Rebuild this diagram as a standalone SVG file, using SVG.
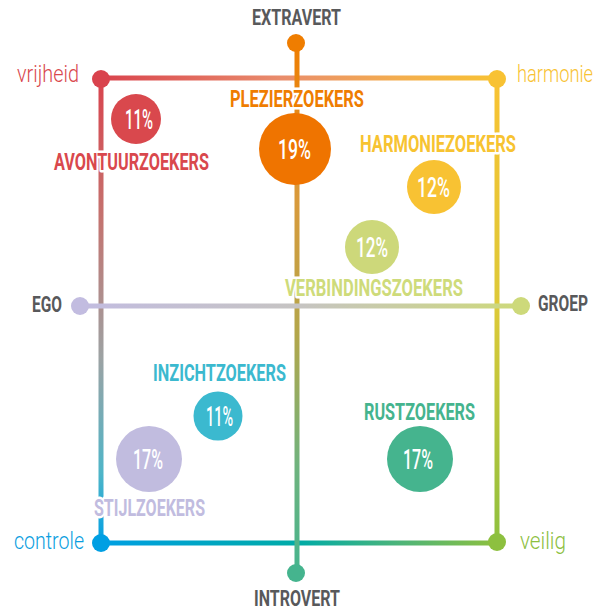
<svg xmlns="http://www.w3.org/2000/svg" width="596" height="611" viewBox="0 0 596 611">
<style>
.ln{fill:none;stroke-width:5;stroke-linecap:butt}
.lbl{font-family:Roboto,"Liberation Sans",sans-serif;font-weight:700;font-size:24.5px;stroke:#fff;stroke-width:5;stroke-linejoin:round;paint-order:stroke}
.ax{font-family:Roboto,"Liberation Sans",sans-serif;font-weight:700;font-size:22px;fill:#58595b}
.pole{font-family:Roboto,"Liberation Sans",sans-serif;font-weight:300;font-size:23px}
.pct{font-family:Roboto,"Liberation Sans",sans-serif;font-weight:500;font-size:27px;fill:#fff}
</style>
<defs>
<linearGradient id="gTop" gradientUnits="userSpaceOnUse" x1="101" y1="0" x2="497" y2="0">
<stop offset="0" stop-color="#d9434d"/><stop offset="0.45" stop-color="#e98c6c"/><stop offset="0.75" stop-color="#f3ad4f"/><stop offset="1" stop-color="#f8c233"/>
</linearGradient>
<linearGradient id="gLeft" gradientUnits="userSpaceOnUse" x1="0" y1="78" x2="0" y2="543">
<stop offset="0" stop-color="#d9434d"/><stop offset="0.3" stop-color="#c4736f"/><stop offset="0.6" stop-color="#9da2a3"/><stop offset="0.85" stop-color="#4fb5c8"/><stop offset="1" stop-color="#009fe3"/>
</linearGradient>
<linearGradient id="gRight" gradientUnits="userSpaceOnUse" x1="0" y1="78" x2="0" y2="543">
<stop offset="0" stop-color="#f8c233"/><stop offset="0.5" stop-color="#dcc938"/><stop offset="1" stop-color="#8dc03f"/>
</linearGradient>
<linearGradient id="gBottom" gradientUnits="userSpaceOnUse" x1="101" y1="0" x2="497" y2="0">
<stop offset="0" stop-color="#009fe3"/><stop offset="0.5" stop-color="#00aba6"/><stop offset="0.75" stop-color="#4cb47a"/><stop offset="1" stop-color="#8dc03f"/>
</linearGradient>
<linearGradient id="gVert" gradientUnits="userSpaceOnUse" x1="0" y1="42" x2="0" y2="573">
<stop offset="0" stop-color="#ef7d00"/><stop offset="0.3" stop-color="#d89a3c"/><stop offset="0.55" stop-color="#b3a64a"/><stop offset="0.8" stop-color="#6fb37e"/><stop offset="1" stop-color="#45b48e"/>
</linearGradient>
<linearGradient id="gHor" gradientUnits="userSpaceOnUse" x1="80" y1="0" x2="521" y2="0">
<stop offset="0" stop-color="#c2bce0"/><stop offset="0.5" stop-color="#c6c4c2"/><stop offset="1" stop-color="#cdd97a"/>
</linearGradient>
</defs>
<rect width="596" height="611" fill="#fff"/>
<g id="connectors">
<line class="ln" x1="101" y1="78" x2="497" y2="78" stroke="url(#gTop)"/>
<line class="ln" x1="101" y1="78" x2="101" y2="543" stroke="url(#gLeft)"/>
<line class="ln" x1="497" y1="78" x2="497" y2="543" stroke="url(#gRight)"/>
<line class="ln" x1="101" y1="543" x2="497" y2="543" stroke="url(#gBottom)"/>
<line class="ln" x1="297" y1="42" x2="297" y2="573" stroke="url(#gVert)"/>
<line class="ln" x1="80" y1="306" x2="521" y2="306" stroke="url(#gHor)"/>
</g>
<g id="extravert"><circle cx="296" cy="43" r="9" fill="#ef7d00"/><text class="ax" x="296.5" y="25" text-anchor="middle" textLength="89" lengthAdjust="spacingAndGlyphs">EXTRAVERT</text></g>
<g id="introvert"><circle cx="296" cy="573" r="9" fill="#45b48e"/><text class="ax" x="297" y="606" text-anchor="middle" textLength="86" lengthAdjust="spacingAndGlyphs">INTROVERT</text></g>
<g id="ego"><circle cx="80" cy="306" r="9" fill="#c2bce0"/><text class="ax" x="32" y="312" textLength="30" lengthAdjust="spacingAndGlyphs">EGO</text></g>
<g id="groep"><circle cx="521" cy="306" r="9" fill="#cdd97a"/><text class="ax" x="588" y="311" text-anchor="end" textLength="50" lengthAdjust="spacingAndGlyphs">GROEP</text></g>
<g id="vrijheid"><circle cx="101" cy="79" r="9" fill="#d9434d"/><text class="pole" x="17" y="82" fill="#d9484d" textLength="62" lengthAdjust="spacingAndGlyphs">vrijheid</text></g>
<g id="harmonie"><circle cx="497" cy="79" r="9" fill="#f8c233"/><text class="pole" x="593" y="82" text-anchor="end" fill="#f8c233" textLength="76" lengthAdjust="spacingAndGlyphs">harmonie</text></g>
<g id="controle"><circle cx="101" cy="543" r="9" fill="#009fe3"/><text class="pole" x="14" y="549" fill="#0a9ee0" textLength="70" lengthAdjust="spacingAndGlyphs">controle</text></g>
<g id="veilig"><circle cx="497" cy="542" r="9" fill="#8dc03f"/><text class="pole" x="520" y="549" fill="#8dc03f" textLength="46" lengthAdjust="spacingAndGlyphs">veilig</text></g>
<g id="avontuurzoekers">
<circle cx="136" cy="119" r="25" fill="#d9484d"/>
<text class="pct" x="139" y="129" text-anchor="middle" textLength="28" lengthAdjust="spacingAndGlyphs">11%</text>
<text class="lbl" x="131.5" y="170" text-anchor="middle" fill="#d9484d" textLength="155" lengthAdjust="spacingAndGlyphs">AVONTUURZOEKERS</text>
</g>
<g id="plezierzoekers">
<circle cx="295" cy="149" r="36" fill="#ef7400"/>
<text class="lbl" x="297" y="107" text-anchor="middle" fill="#ef7d00" textLength="134" lengthAdjust="spacingAndGlyphs">PLEZIERZOEKERS</text>
<text class="pct" x="294.5" y="159" text-anchor="middle" textLength="33" lengthAdjust="spacingAndGlyphs">19%</text>
</g>
<g id="harmoniezoekers">
<circle cx="434" cy="187" r="27" fill="#f8c233"/>
<text class="pct" x="433.5" y="197" text-anchor="middle" textLength="33" lengthAdjust="spacingAndGlyphs">12%</text>
<text class="lbl" x="438" y="152" text-anchor="middle" fill="#f7c331" textLength="156" lengthAdjust="spacingAndGlyphs">HARMONIEZOEKERS</text>
</g>
<g id="verbindingszoekers">
<circle cx="372" cy="247" r="27" fill="#cdd87a"/>
<text class="pct" x="372" y="257" text-anchor="middle" textLength="32" lengthAdjust="spacingAndGlyphs">12%</text>
<text class="lbl" x="374" y="296" text-anchor="middle" fill="#cedb7a" textLength="178" lengthAdjust="spacingAndGlyphs">VERBINDINGSZOEKERS</text>
</g>
<g id="inzichtzoekers">
<circle cx="218" cy="416" r="24.5" fill="#3bb9cf"/>
<text class="pct" x="219.5" y="426" text-anchor="middle" textLength="27" lengthAdjust="spacingAndGlyphs">11%</text>
<text class="lbl" x="219.5" y="381" text-anchor="middle" fill="#3bb9cf" textLength="133" lengthAdjust="spacingAndGlyphs">INZICHTZOEKERS</text>
</g>
<g id="stijlzoekers">
<circle cx="149" cy="459" r="33" fill="#c1bcdf"/>
<text class="pct" x="148" y="469" text-anchor="middle" textLength="30" lengthAdjust="spacingAndGlyphs">17%</text>
<text class="lbl" x="149.5" y="516" text-anchor="middle" fill="#c1bcdf" textLength="111" lengthAdjust="spacingAndGlyphs">STIJLZOEKERS</text>
</g>
<g id="rustzoekers">
<circle cx="420" cy="459" r="33" fill="#45b48e"/>
<text class="pct" x="418" y="469" text-anchor="middle" textLength="30" lengthAdjust="spacingAndGlyphs">17%</text>
<text class="lbl" x="419.5" y="420" text-anchor="middle" fill="#45b48e" textLength="111" lengthAdjust="spacingAndGlyphs">RUSTZOEKERS</text>
</g>
</svg>
